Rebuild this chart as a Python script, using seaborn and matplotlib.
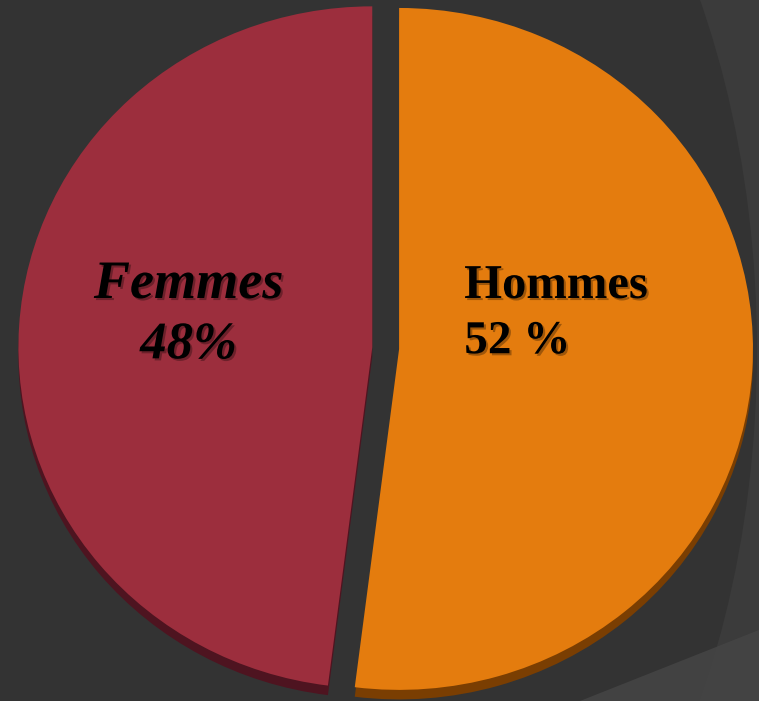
import matplotlib
matplotlib.use("Agg")
import matplotlib.pyplot as plt
import matplotlib.patheffects as pe
from matplotlib.patches import Ellipse, Polygon
import numpy as np
import seaborn as sns

# values
labels = ["Hommes", "Femmes"]
shares = [52, 48]
pct_labels = ["52 %", "48%"]
slice_colors = ["#E47C0E", "#9C2E3D"]
side_colors = ["#7A3E02", "#4E1420"]

sns.set_theme(style="dark")
plt.rcParams["font.family"] = ["Liberation Serif", "DejaVu Serif"]

W, H = 759, 701
fig = plt.figure(figsize=(W / 100, H / 100), dpi=100)
fig.patch.set_facecolor("#3B3B3B")

# background decoration (theme arcs)
bg = fig.add_axes([0, 0, 1, 1], zorder=0)
bg.set_xlim(0, W)
bg.set_ylim(H, 0)
bg.axis("off")
bg.add_patch(Ellipse((332, 350), 850, 1400, facecolor="#333333", edgecolor="none"))
bg.add_patch(Polygon([(580, H), (W, 630), (W, H)], closed=True,
                     facecolor="#464646", edgecolor="none", alpha=0.8))

ax = fig.add_axes([0, 0, 1, 1], zorder=1)
ax.set_facecolor("none")

explode = [0.038, 0.038]
# depth of the tilted pie: darker copy shifted down
ax.pie(shares, colors=side_colors, startangle=90, counterclock=False,
       explode=explode, center=(0, -0.028),
       wedgeprops=dict(linewidth=0))
wedges, _ = ax.pie(shares, colors=slice_colors, startangle=90, counterclock=False,
                   explode=explode, wedgeprops=dict(linewidth=0))

ax.set_aspect("auto")
ax.set_xlim(-1.09, 1.055)
ax.set_ylim(-1.035, 1.021)
ax.axis("off")

shadow = [pe.SimplePatchShadow(offset=(1.5, -1.5), shadow_rgbFace="black", alpha=0.3),
          pe.Normal()]

# Hommes: left aligned inside the orange slice
ax.text(0.222, 0.147, labels[0], ha="left", va="baseline", fontsize=35,
        fontweight="bold", color="black", path_effects=shadow)
ax.text(0.222, -0.015, pct_labels[0], ha="left", va="baseline", fontsize=34,
        fontweight="bold", color="black", path_effects=shadow)

# Femmes: centered, bold italic
ax.text(-0.557, 0.147, labels[1], ha="center", va="baseline", fontsize=39,
        fontweight="bold", fontstyle="italic", color="black", path_effects=shadow)
ax.text(-0.557, -0.03, pct_labels[1], ha="center", va="baseline", fontsize=38,
        fontweight="bold", fontstyle="italic", color="black", path_effects=shadow)

fig.savefig("out.png", dpi=100, facecolor=fig.get_facecolor())
